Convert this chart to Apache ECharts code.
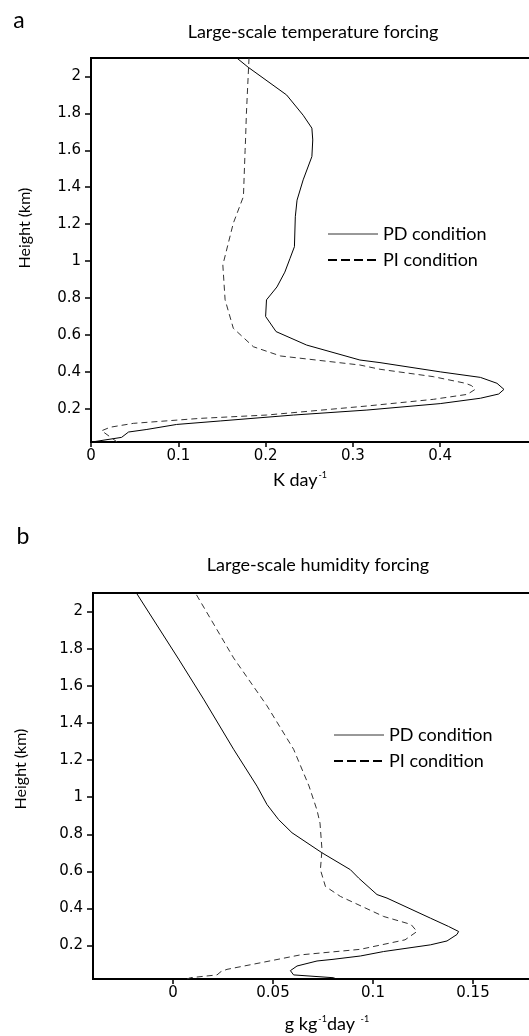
<!DOCTYPE html>
<html>
<head>
<meta charset="utf-8">
<script src="https://cdn.jsdelivr.net/npm/echarts@6/dist/echarts.min.js"></script>
<style>html,body{margin:0;padding:0;background:#fff;}#c{width:529px;height:1036px;}</style>
</head>
<body>
<div id="c"></div>
<script>
// ---- data: [forcing, height km] ----
const tempPD = [[0.001,0.02],[0.035,0.045],[0.043,0.074],[0.064,0.088],[0.098,0.115],[0.148,0.134],[0.232,0.166],[0.316,0.193],[0.400,0.228],[0.446,0.257],[0.467,0.28],[0.473,0.305],[0.465,0.338],[0.446,0.37],[0.400,0.40],[0.331,0.45],[0.308,0.464],[0.247,0.545],[0.212,0.618],[0.200,0.70],[0.201,0.79],[0.203,0.80],[0.213,0.86],[0.222,0.94],[0.228,1.015],[0.233,1.078],[0.234,1.24],[0.236,1.33],[0.243,1.44],[0.253,1.566],[0.254,1.656],[0.253,1.72],[0.243,1.79],[0.224,1.90],[0.180,2.05],[0.167,2.1]];
const tempPI = [[0.030,0.02],[0.0122,0.081],[0.022,0.10],[0.0485,0.121],[0.125,0.148],[0.201,0.166],[0.316,0.215],[0.392,0.251],[0.431,0.278],[0.440,0.305],[0.436,0.325],[0.429,0.338],[0.392,0.374],[0.331,0.414],[0.308,0.437],[0.217,0.486],[0.186,0.536],[0.163,0.636],[0.1536,0.79],[0.152,0.80],[0.151,0.979],[0.163,1.205],[0.1746,1.35],[0.1765,1.60],[0.177,1.656],[0.178,1.8],[0.181,2.1]];
const humPD = [[0.082,0.02],[0.080,0.027],[0.0603,0.042],[0.0587,0.065],[0.062,0.09],[0.072,0.117],[0.080,0.126],[0.0937,0.144],[0.1053,0.168],[0.1287,0.204],[0.137,0.225],[0.142,0.26],[0.1428,0.276],[0.1378,0.303],[0.1287,0.348],[0.107,0.456],[0.102,0.475],[0.0928,0.564],[0.0887,0.609],[0.0745,0.70],[0.0595,0.808],[0.0528,0.879],[0.047,0.96],[0.042,1.059],[0.0303,1.258],[0.0153,1.528],[0.0028,1.744],[-0.0183,2.1]];
const humPI = [[0.007,0.02],[0.0087,0.027],[0.022,0.042],[0.024,0.06],[0.027,0.072],[0.045,0.11],[0.0637,0.15],[0.0937,0.18],[0.116,0.231],[0.122,0.276],[0.119,0.314],[0.1053,0.357],[0.0837,0.465],[0.0762,0.519],[0.0737,0.609],[0.0745,0.717],[0.0735,0.86],[0.072,0.93],[0.068,1.06],[0.0603,1.258],[0.047,1.492],[0.0303,1.75],[0.0112,2.1]];
const heightTicks = [0.2,0.4,0.6,0.8,1,1.2,1.4,1.6,1.8,2];
const tempTicks = [0,0.1,0.2,0.3,0.4];
const humTicks = [0,0.05,0.1,0.15];
const seriesNames = ['PD condition','PI condition'];

const chart = echarts.init(document.getElementById('c'));
const tickFont = {fontFamily:'DejaVu Sans', fontSize:15, color:'#000'};
const txtFont = 'Lato';
function xAx(gi, min, max, ticks){
  return {type:'value', gridIndex:gi, min:min, max:max,
    axisLine:{show:true, onZero:false, lineStyle:{color:'#000', width:2}},
    axisTick:{show:true, length:5, customValues:ticks, lineStyle:{color:'#000', width:1.5}},
    axisLabel:Object.assign({customValues:ticks, margin:7}, tickFont),
    splitLine:{show:false}};
}
function yAx(gi){
  return {type:'value', gridIndex:gi, min:0.02, max:2.1,
    axisLine:{show:true, onZero:false, lineStyle:{color:'#000', width:2}},
    axisTick:{show:true, length:6, customValues:heightTicks, lineStyle:{color:'#000', width:1.5}},
    axisLabel:Object.assign({customValues:heightTicks, margin:10}, tickFont),
    splitLine:{show:false}};
}
function ser(name, gi, data, dashed){
  return {name:name, type:'line', xAxisIndex:gi, yAxisIndex:gi, data:data, symbol:'none', smooth:false,
    itemStyle:{color:'#000'},
    lineStyle: dashed ? {color:'#333', width:1, type:[6,4]} : {color:'#000', width:1}};
}
function legendAt(left, top){
  return {orient:'vertical', left:left, top:top, itemWidth:50, itemHeight:14, itemGap:6,
    textStyle:{fontFamily:txtFont, fontSize:18, color:'#000', lineHeight:20},
    data:[{name:seriesNames[0], itemStyle:{opacity:0}, lineStyle:{color:'#333', width:1, type:'solid'}},
          {name:seriesNames[1], itemStyle:{opacity:0}, lineStyle:{color:'#000', width:2, type:[9,4]}}]};
}
function txt(x, y, text, size, rot){
  return {type:'text', x:x, y:y, rotation:rot||0,
    style:{text:text, font:size+'px '+txtFont, fill:'#000', align:'center', verticalAlign:'middle'}};
}
chart.setOption({
  animation:false,
  grid:[
    {left:91, top:58, width:454, height:384, show:true, borderColor:'#000', borderWidth:2, containLabel:false, outerBoundsMode:'none'},
    {left:93, top:593, width:480, height:386, show:true, borderColor:'#000', borderWidth:2, containLabel:false, outerBoundsMode:'none'}
  ],
  xAxis:[xAx(0, 0, 0.52, tempTicks), xAx(1, -0.04, 0.2, humTicks)],
  yAxis:[yAx(0), yAx(1)],
  legend:[legendAt(322, 219), legendAt(328, 720)],
  series:[ser(seriesNames[0],0,tempPD,false), ser(seriesNames[1],0,tempPI,true),
          ser(seriesNames[0],1,humPD,false), ser(seriesNames[1],1,humPI,true)],
  graphic:[
    txt(19, 21, 'a', 23),
    txt(23, 537, 'b', 23),
    txt(313, 32, 'Large-scale temperature forcing', 18),
    txt(318, 565, 'Large-scale humidity forcing', 18),
    txt(25, 228, 'Height (km)', 16, Math.PI/2),
    txt(21, 769, 'Height (km)', 16, Math.PI/2),
    {type:'text', x:300, y:480, style:{text:'{m|K day}{s|-1}', align:'center', verticalAlign:'middle', fill:'#000',
      rich:{m:{fontFamily:txtFont, fontSize:18, fill:'#000'}, s:{fontFamily:txtFont, fontSize:9, fill:'#000', verticalAlign:'top', padding:[0,0,8,1]}}}},
    {type:'text', x:327, y:1024, style:{text:'{m|g kg}{s|-1}{m|day }{s|-1}', align:'center', verticalAlign:'middle', fill:'#000',
      rich:{m:{fontFamily:txtFont, fontSize:18, fill:'#000'}, s:{fontFamily:txtFont, fontSize:9, fill:'#000', verticalAlign:'top', padding:[0,0,8,1]}}}}
  ]
});
</script>
</body>
</html>
